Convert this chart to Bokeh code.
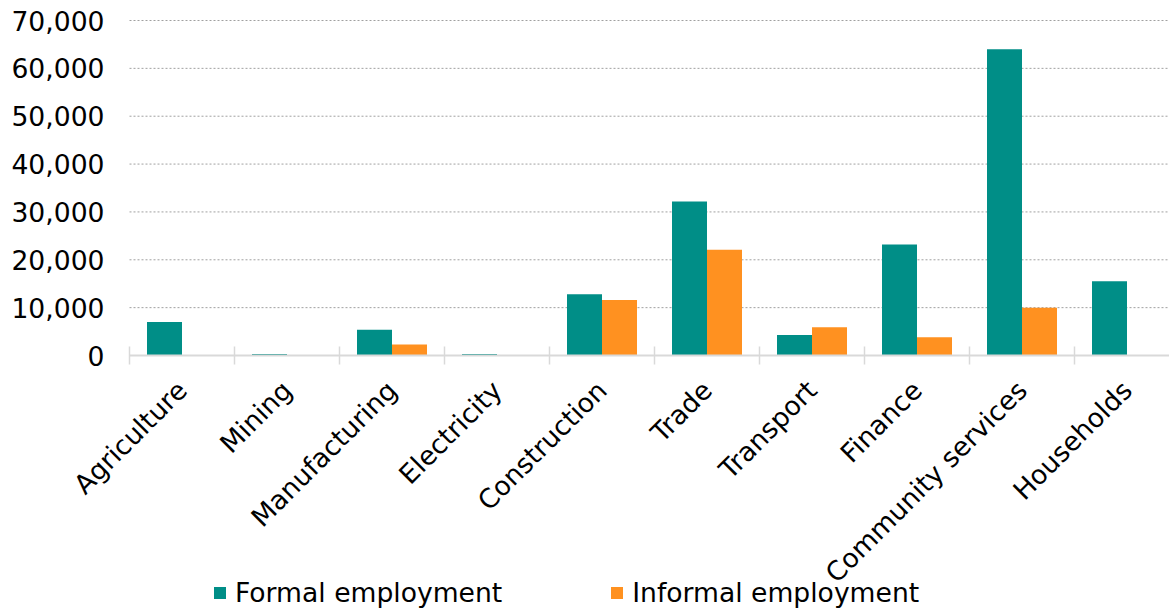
import numpy as np
from math import pi
from bokeh.plotting import figure
from bokeh.models import FixedTicker, NumeralTickFormatter, Range1d, Legend, LegendItem
from bokeh.embed import file_html
from bokeh.resources import INLINE

categories = ["Agriculture", "Mining", "Manufacturing", "Electricity", "Construction",
              "Trade", "Transport", "Finance", "Community services", "Households"]
formal = [7000, 300, 5400, 300, 12800, 32200, 4300, 23200, 64000, 15500]
informal = [0, 0, 2300, 0, 11600, 22100, 5900, 3800, 10000, 0]
y_ticks = [0, 10000, 20000, 30000, 40000, 50000, 60000, 70000]
series_names = ["Formal employment", "Informal employment"]

TEAL = "#008E87"
ORANGE = "#FF9120"
FONT = "DejaVu Sans"
FS = "26.6px"

# layout (pixels): plot area left edge, y of 70,000 and of 0, category width
W, H = 1169, 608
LEFT, TOPTICK, ZERO, CAT = 129, 20, 355, 105
UPP = 70000 / (ZERO - TOPTICK)          # data units per pixel
YMAX = 70000 + TOPTICK * UPP
YMIN = -(H - ZERO) * UPP
XMIN = -LEFT / CAT
XMAX = (W - LEFT) / CAT

n = len(categories)
idx = np.arange(n)
centers = (idx + 0.5).tolist()
bounds = list(range(n + 1))

p = figure(width=W, height=H, output_backend="svg", toolbar_location=None,
           x_range=Range1d(XMIN, XMAX), y_range=Range1d(YMIN, YMAX),
           min_border=0, min_border_left=0, min_border_right=0,
           min_border_top=0, min_border_bottom=0)
p.outline_line_color = None
p.background_fill_color = "white"
p.border_fill_color = "white"
p.xgrid.visible = False
p.ygrid.visible = False

# dashed gridlines over the plot area only
grid_y = [t for t in y_ticks if t > 0]
p.segment(x0=[0] * len(grid_y), x1=[XMAX] * len(grid_y), y0=grid_y, y1=grid_y,
          line_color="#A0A0A0", line_dash="2 2", line_width=1)

w = 1 / 3
r1 = p.vbar(x=(idx + 0.5 - w / 2).tolist(), top=formal, width=w, bottom=0,
            fill_color=TEAL, line_color=None)
r2 = p.vbar(x=(idx + 0.5 + w / 2).tolist(), top=informal, width=w, bottom=0,
            fill_color=ORANGE, line_color=None)

# x axis, pinned at y = 0
xa = p.xaxis[0]
xa.fixed_location = 0
xa.bounds = (0, n)
xa.ticker = FixedTicker(ticks=centers, minor_ticks=bounds)
xa.major_label_overrides = {c: lab for c, lab in zip(centers, categories)}
xa.major_label_orientation = pi / 4
xa.major_tick_in = 0
xa.major_tick_out = 0
xa.minor_tick_in = 9
xa.minor_tick_out = 9
xa.minor_tick_line_color = "#D9D9D9"
xa.minor_tick_line_width = 1.5
xa.axis_line_color = "#D9D9D9"
xa.axis_line_width = 2
xa.major_label_text_font = FONT
xa.major_label_text_font_size = FS
xa.major_label_text_color = "#000000"
xa.major_label_standoff = 21

# y axis, pinned at x = 0
ya = p.yaxis[0]
ya.fixed_location = 0
ya.ticker = FixedTicker(ticks=y_ticks)
ya.formatter = NumeralTickFormatter(format="0,0")
ya.axis_line_color = None
ya.major_tick_line_color = None
ya.major_tick_in = 0
ya.major_tick_out = 0
ya.minor_tick_line_color = None
ya.major_label_standoff = 25
ya.major_label_text_font = FONT
ya.major_label_text_font_size = FS
ya.major_label_text_color = "#000000"

legend = Legend(items=[LegendItem(label=series_names[0], renderers=[r1]),
                       LegendItem(label=series_names[1], renderers=[r2])],
                orientation="horizontal", location=(212, 0),
                padding=0, margin=0, spacing=107,
                glyph_width=15, glyph_height=15, label_standoff=8,
                label_text_font=FONT, label_text_font_size=FS,
                label_text_color="#000000", label_height=26,
                border_line_color=None, background_fill_alpha=0)
p.add_layout(legend, "center")

open("out.html", "w").write(file_html(p, INLINE))
